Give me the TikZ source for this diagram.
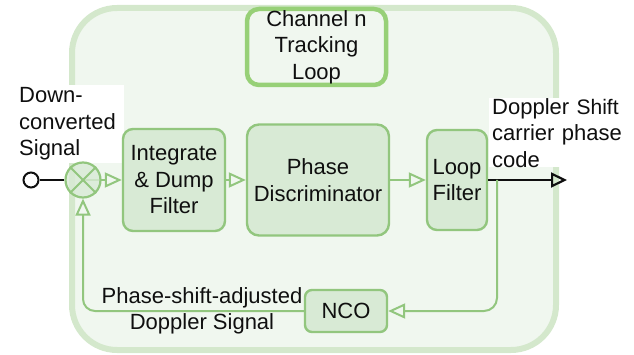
\documentclass[tikz,border=0pt]{standalone}
\usepackage{fontspec}
\setmainfont{Liberation Sans}
\usetikzlibrary{arrows.meta}
\definecolor{panelfill}{RGB}{240,247,239}
\definecolor{panelline}{RGB}{212,232,204}
\definecolor{titleline}{RGB}{151,208,119}
\definecolor{blockfill}{RGB}{216,234,213}
\definecolor{blockline}{RGB}{146,198,126}
\definecolor{ink}{RGB}{15,15,15}

\begin{document}
\begin{tikzpicture}[x=1pt,y=-1pt,
  txt/.style={font=\fontsize{22}{26.5}\selectfont, text=ink, align=center},
  block/.style={txt, draw=blockline, fill=blockfill, line width=2.4pt,
    rounded corners=10pt, inner sep=0pt},
  panel/.style={draw=panelline, fill=panelfill, line width=6pt,
    rounded corners=45pt, inner sep=0pt},
  titlebox/.style={txt, draw=titleline, fill=panelfill, line width=4.5pt,
    rounded corners=12pt, inner sep=0pt},
  flow/.style={draw=blockline, line width=2pt,
    -{Triangle[open,length=17pt,width=15pt]}},
  signal/.style={draw=ink, line width=2.2pt},
  label/.style={txt, align=left, fill=white, inner ysep=0pt}
]
\useasboundingbox (0,0) rectangle (634,355);

% container of the tracking loop
\node[panel, minimum width=484pt, minimum height=342pt] (loop) at (314,179) {};
\node[titlebox, minimum width=139pt, minimum height=76pt] (chan) at (316.5,47)
  {Channel n\\Tracking\\Loop};

% input and output labels
\node[label, text width=101pt, inner xsep=4pt, minimum height=78pt,
  anchor=north west] (inlab) at (15,85) {Down-\\converted\\Signal};
\node[label, text width=134pt, inner xsep=3pt, minimum height=67pt,
  anchor=north west] (outlab) at (489,98)
  {Doppler {\fontsize{21}{26.5}\selectfont Shift}\\carrier phase\\code};

% processing blocks
\node[block, minimum width=102pt, minimum height=102pt] (integ) at (174,180)
  {Integrate\\\& Dump\\Filter};
\node[block, minimum width=142pt, minimum height=111pt, rounded corners=12pt]
  (phase) at (318,180) {Phase\\Discriminator};
\node[block, minimum width=60pt, minimum height=100pt] (loopf) at (457,180)
  {Loop\\Filter};
\node[block, minimum width=82pt, minimum height=42pt, rounded corners=7pt]
  (nco) at (346,311) {NCO};

% mixer and input terminal
\coordinate (mixc) at (83,180);
\draw[flow] (mixc) -- (integ.west);
\node[circle, draw=blockline, fill=blockfill, fill opacity=0.8,
  line width=2.2pt, minimum size=35pt, inner sep=0pt] (mixer) at (mixc) {};
\draw[blockline, line width=1.8pt] (mixer.north west) -- (mixer.south east)
  (mixer.north east) -- (mixer.south west);
\node[circle, draw=ink, fill=white, line width=2pt, minimum size=15pt,
  inner sep=0pt] (src) at (31,180) {};
\draw[signal] (src) -- (mixer);

% forward chain
\draw[flow] (integ) -- (phase);
\draw[flow] (phase) -- (loopf);

% output
\coordinate (tap) at (497,180);
\coordinate (outend) at (567,180);
\draw[signal, -{Triangle[open,length=16pt,width=15pt]}] (loopf.east) -- (outend);

% feedback through the NCO
\draw[flow, rounded corners=13pt] (tap) |- (nco.east);
\draw[flow, rounded corners=12pt] (nco.west) -| (mixer.south);
\node[txt, inner sep=0pt] (fblab) at (202,311)
  {Phase-shift-adjusted\\Doppler Signal};
\end{tikzpicture}
\end{document}
